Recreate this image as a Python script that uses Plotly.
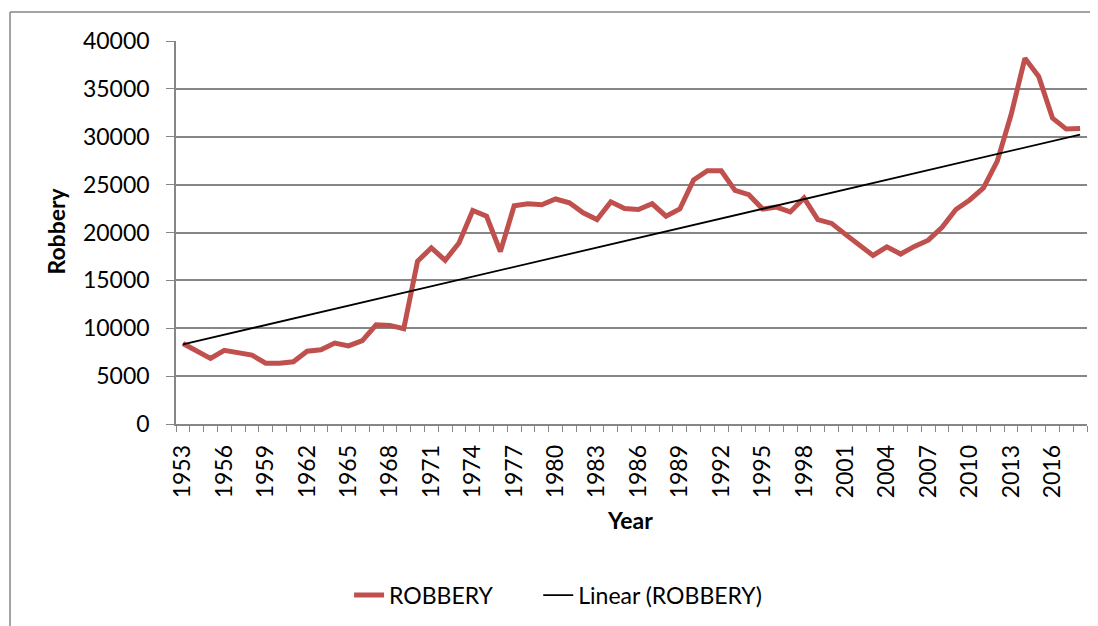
import numpy as np
import plotly.graph_objects as go

years = list(range(1953, 2019))
robbery = [8400, 7600, 6850, 7700, 7450, 7200, 6350, 6350, 6500, 7600,
           7750, 8450, 8150, 8700, 10350, 10300, 9950, 17000, 18400, 17100,
           18900, 22300, 21700, 18000, 22800, 23000, 22900, 23500, 23100, 22050,
           21350, 23200, 22500, 22400, 23000, 21700, 22450, 25500, 26450, 26450,
           24400, 23950, 22450, 22650, 22150, 23600, 21350, 20950, 19800, 18700,
           17600, 18500, 17750, 18550, 19200, 20550, 22400, 23400, 24650, 27450,
           32300, 38200, 36300, 31950, 30800, 30850]
tick_years = list(range(1953, 2017, 3))

# linear trend (least squares) like Excel's "Linear" trendline
coef = np.polyfit(years, robbery, 1)
trend = list(np.polyval(coef, [years[0], years[-1]]))

FONT = "Lato"
GRID = "#868686"

fig = go.Figure()
fig.add_trace(go.Scatter(x=years, y=robbery, mode="lines",
                         name="ROBBERY" + "\u00a0" * 7,
                         line=dict(color="#C0504D", width=5)))
fig.add_trace(go.Scatter(x=[years[0], years[-1]], y=trend, mode="lines",
                         name="Linear (ROBBERY)",
                         line=dict(color="black", width=1.8)))

fig.update_layout(
    width=1090, height=618,
    margin=dict(l=168, r=11, t=33, b=201),
    paper_bgcolor="white", plot_bgcolor="white",
    font=dict(family=FONT, size=23, color="black"),
    showlegend=True,
    legend=dict(orientation="h", x=0.19, xanchor="left", y=-0.443, yanchor="middle",
                font=dict(size=23), tracegroupgap=0),
    xaxis=dict(range=[1952.5, 2018.5], tickmode="array", tickvals=tick_years,
               ticktext=[str(y) for y in tick_years], tickangle=-90,
               ticks="", showgrid=False, showline=True, linecolor=GRID, linewidth=1.5,
               zeroline=False, ticklabelstandoff=10, automargin=False,
               minor=dict(tickmode="linear", tick0=1952.5, dtick=1, ticks="outside",
                          ticklen=6, tickcolor=GRID, tickwidth=1.3, showgrid=False),
               tickfont=dict(size=23)),
    yaxis=dict(range=[0, 40000], tickmode="linear", tick0=0, dtick=5000,
               tickformat="d",
               showgrid=True, gridcolor=GRID, gridwidth=1.5,
               showline=True, linecolor=GRID, linewidth=1.5,
               ticks="outside", ticklen=8, tickcolor=GRID, tickwidth=1.3,
               zeroline=False, ticklabelstandoff=12, automargin=False,
               tickfont=dict(size=23)),
    annotations=[
        dict(text="<b>Robbery</b>", xref="paper", yref="paper", x=-0.149, y=0.503,
             textangle=-90, showarrow=False, font=dict(size=23)),
        dict(text="<b>Year</b>", xref="paper", yref="paper", x=0.498, y=-0.292,
             showarrow=False, font=dict(size=23)),
    ],
    shapes=[
        dict(type="line", xref="paper", yref="paper", x0=-0.1822, x1=-0.1822,
             y0=1.0755, y1=-0.6, line=dict(color=GRID, width=1.5)),
        dict(type="line", xref="paper", yref="paper", x0=-0.1822, x1=1.02,
             y0=1.0755, y1=1.0755, line=dict(color=GRID, width=1.5)),
    ],
)

fig.write_html("out.html")
